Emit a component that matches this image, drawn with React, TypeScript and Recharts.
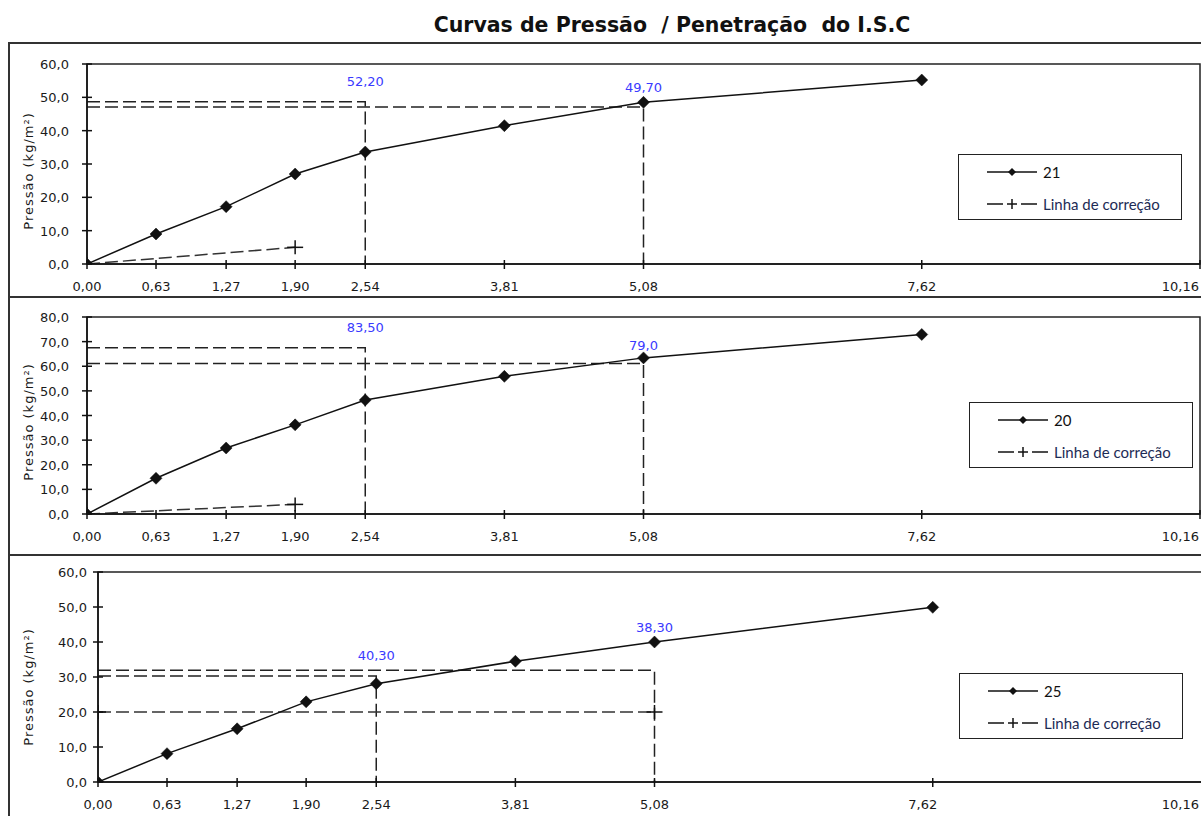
import React from 'react';
import { ComposedChart, Line, XAxis, YAxis, Scatter, Legend, ReferenceArea } from 'recharts';

// ---------- data ----------
const penetration = [0, 0.63, 1.27, 1.9, 2.54, 3.81, 5.08, 7.62];
const xTicks = [0, 0.63, 1.27, 1.9, 2.54, 3.81, 5.08, 7.62, 10.16];
const yTicks60 = [0, 10, 20, 30, 40, 50, 60];
const yTicks80 = [0, 10, 20, 30, 40, 50, 60, 70, 80];

const samples = ['21', '20', '25'];
const pressure21 = [0, 9.0, 17.2, 27.0, 33.6, 41.5, 48.5, 55.2];
const pressure20 = [0, 14.5, 26.8, 36.2, 46.3, 55.9, 63.4, 72.9];
const pressure25 = [0, 8.1, 15.2, 22.9, 28.1, 34.5, 40.0, 49.9];

const correctionX21 = [0, 1.9];
const correctionY21 = [0, 5.0];
const correctionX20 = [0, 1.9];
const correctionY20 = [0, 3.9];
const correctionX25 = [0, 5.08];
const correctionY25 = [20, 20];

const guideX = [2.54, 5.08];
const guideY21 = [48.7, 47.1];
const guideY20 = [67.5, 61.1];
const guideY25 = [30.3, 31.9];

const isc21 = ['52,20', '49,70'];
const iscY21 = [55.0, 53.2];
const isc20 = ['83,50', '79,0'];
const iscY20 = [75.9, 68.8];
const isc25 = ['40,30', '38,30'];
const iscY25 = [36.2, 44.3];

const title = 'Curvas de Pressão  / Penetração  do I.S.C';
const yTitle = 'Pressão (kg/m²)';
const correctionName = 'Linha de correção';

// ---------- helpers ----------
const toPoints = (xs: number[], ys: number[]) => xs.map((x, i) => ({ x, y: ys[i] }));
const guidePath = (x: number, y: number) => [
  { x: 0, y },
  { x, y },
  { x, y: 0 },
];
const labelPoints = (xs: number[], ys: number[], texts: string[]) =>
  xs.map((x, i) => ({ x, y: ys[i], text: texts[i] }));

const FONT = '"DejaVu Sans", Verdana, sans-serif';
const INK = '#111';

const Diamond = (props: any) => {
  const { cx, cy, index } = props;
  if (cx == null || cy == null) return <g key={`d${index}`} />;
  const r = 6;
  return (
    <path
      key={`d${index}`}
      d={`M${cx},${cy - r}L${cx + r},${cy}L${cx},${cy + r}L${cx - r},${cy}Z`}
      fill={INK}
      stroke={INK}
      strokeWidth={0.5}
    />
  );
};

const Plus = (props: any) => {
  const { cx, cy, index } = props;
  if (cx == null || cy == null) return <g key={`p${index}`} />;
  return (
    <g key={`p${index}`}>
      <line x1={cx - 8} x2={cx + 8} y1={cy} y2={cy} stroke={INK} strokeWidth={1.5} />
      <line x1={cx} x2={cx} y1={cy - 7} y2={cy + 7} stroke={INK} strokeWidth={1.5} />
    </g>
  );
};

const fmtX = (v: number) => v.toFixed(2).replace('.', ',');
const fmtY = (v: number) => v.toFixed(1).replace('.', ',');

const makeXTick = (shifts: number[]) => (props: any) => {
  const { x, y, payload, index } = props;
  const last = index === xTicks.length - 1;
  return (
    <g>
      <line x1={x} x2={x} y1={y - 4} y2={y + 5} stroke={INK} strokeWidth={1.5} />
      <text
        x={last ? 1199 : x + (shifts[index] || 0)}
        y={y + 27}
        textAnchor={last ? 'end' : 'middle'}
        fontFamily={FONT}
        fontSize={13}
        fill="#1a1a1a"
      >
        {fmtX(payload.value)}
      </text>
    </g>
  );
};

const makeYTick = (gap: number) => (props: any) => {
  const { x, y, payload } = props;
  return (
    <g>
      <line x1={x - 5} x2={x + 5} y1={y} y2={y} stroke={INK} strokeWidth={1.5} />
      <text
        x={x - gap}
        y={y + 5}
        textAnchor="end"
        fontFamily={FONT}
        fontSize={13}
        fill="#1a1a1a"
      >
        {fmtY(payload.value)}
      </text>
    </g>
  );
};

const IscLabel = (props: any) => {
  const { cx, cy, payload, index } = props;
  if (cx == null) return <g key={`l${index}`} />;
  return (
    <text
      key={`l${index}`}
      x={cx}
      y={cy + 5}
      textAnchor="middle"
      fontFamily={FONT}
      fontSize={13}
      fill="#3a3aff"
    >
      {payload.text}
    </text>
  );
};

const makeLegend = (name: string) => () => (
  <div
    style={{
      width: 222,
      height: 64,
      border: '1.5px solid #222',
      background: '#fff',
      position: 'relative',
      fontFamily: 'Lato, sans-serif',
      fontSize: 15,
    }}
  >
    <svg width={60} height={64} style={{ position: 'absolute', left: 26, top: 0 }}>
      <line x1={2} x2={52} y1={17} y2={17} stroke={INK} strokeWidth={1.5} />
      <path d="M27,13L31,17L27,21L23,17Z" fill={INK} />
      <line x1={2} x2={18} y1={49} y2={49} stroke={INK} strokeWidth={1.5} />
      <line x1={36} x2={52} y1={49} y2={49} stroke={INK} strokeWidth={1.5} />
      <line x1={22} x2={32} y1={49} y2={49} stroke={INK} strokeWidth={1.5} />
      <line x1={27} x2={27} y1={44} y2={54} stroke={INK} strokeWidth={1.5} />
    </svg>
    <div style={{ position: 'absolute', left: 84, top: 7, color: '#111', lineHeight: '20px' }}>{name}</div>
    <div style={{ position: 'absolute', left: 84, top: 39, color: '#1d2b55', lineHeight: '20px' }}>
      {correctionName}
    </div>
  </div>
);

type PanelCfg = {
  top: number;
  height: number;
  width: number;
  marginTop: number;
  yAxisWidth: number;
  xAxisHeight: number;
  yMax: number;
  yTicks: number[];
  yGap: number;
  yLabelY: number;
  legendLeft: number;
  legendTop: number;
  xShifts: number[];
  name: string;
  values: number[];
  corrX: number[];
  corrY: number[];
  guideY: number[];
  isc: string[];
  iscY: number[];
};

const panels: PanelCfg[] = [
  {
    top: 43, height: 254, width: 1201, marginTop: 21, yAxisWidth: 87, xAxisHeight: 33,
    yMax: 60, yTicks: yTicks60, yGap: 18, yLabelY: 128, legendLeft: 958, legendTop: 111,
    xShifts: [], name: samples[0], values: pressure21, corrX: correctionX21, corrY: correctionY21,
    guideY: guideY21, isc: isc21, iscY: iscY21,
  },
  {
    top: 297, height: 258, width: 1201, marginTop: 20, yAxisWidth: 87, xAxisHeight: 41,
    yMax: 80, yTicks: yTicks80, yGap: 18, yLabelY: 125, legendLeft: 969, legendTop: 105,
    xShifts: [], name: samples[1], values: pressure20, corrX: correctionX20, corrY: correctionY20,
    guideY: guideY20, isc: isc20, iscY: iscY20,
  },
  {
    top: 555, height: 261, width: 1212, marginTop: 17, yAxisWidth: 98, xAxisHeight: 34,
    yMax: 60, yTicks: yTicks60, yGap: 11, yLabelY: 132, legendLeft: 959, legendTop: 118,
    xShifts: [0, 0, 0, 0, 0, 0, 0, -10, 0], name: samples[2], values: pressure25, corrX: correctionX25,
    corrY: correctionY25, guideY: guideY25, isc: isc25, iscY: iscY25,
  },
];

const Panel = ({ cfg }: { cfg: PanelCfg }) => {
  const main = toPoints(penetration, cfg.values);
  const corr = toPoints(cfg.corrX, cfg.corrY);
  const labels = labelPoints(guideX, cfg.iscY, cfg.isc);
  return (
    <div style={{ position: 'absolute', left: 0, top: cfg.top }}>
      <ComposedChart
        width={cfg.width}
        height={cfg.height}
        margin={{ top: cfg.marginTop, right: 1, bottom: 0, left: 0 }}
      >
        <XAxis
          type="number"
          dataKey="x"
          domain={[0, 10.16]}
          ticks={xTicks}
          interval={0}
          allowDataOverflow
          height={cfg.xAxisHeight}
          tickSize={0}
          tickMargin={0}
          tickLine={false}
          axisLine={{ stroke: INK, strokeWidth: 1.5 }}
          tick={makeXTick(cfg.xShifts)}
        />
        <YAxis
          type="number"
          dataKey="y"
          domain={[0, cfg.yMax]}
          ticks={cfg.yTicks}
          interval={0}
          allowDataOverflow
          width={cfg.yAxisWidth}
          tickSize={0}
          tickMargin={0}
          tickLine={false}
          axisLine={{ stroke: INK, strokeWidth: 1.5 }}
          tick={makeYTick(cfg.yGap)}
          label={() => (
            <text
              x={28}
              y={cfg.yLabelY}
              transform={`rotate(-90 28 ${cfg.yLabelY})`}
              textAnchor="middle"
              dominantBaseline="central"
              fontFamily={FONT}
              fontSize={13}
              letterSpacing={1}
              fill="#1a1a1a"
            >
              {yTitle}
            </text>
          )}
        />
        <ReferenceArea
          x1={0}
          x2={10.16}
          y1={0}
          y2={cfg.yMax}
          fill="none"
          stroke="#222"
          strokeWidth={1.5}
          ifOverflow="visible"
        />
        {guideX.map((gx, i) => (
          <Line
            key={`g${i}`}
            data={guidePath(gx, cfg.guideY[i])}
            dataKey="y"
            type="linear"
            stroke="#222"
            strokeWidth={1.5}
            strokeDasharray="13 5"
            dot={false}
            activeDot={false}
            legendType="none"
            isAnimationActive={false}
          />
        ))}
        <Line
          data={corr}
          dataKey="y"
          name={correctionName}
          type="linear"
          stroke="#333"
          strokeWidth={1.5}
          strokeDasharray="13 5"
          dot={<Plus />}
          activeDot={false}
          isAnimationActive={false}
        />
        <Line
          data={main}
          dataKey="y"
          name={cfg.name}
          type="linear"
          stroke={INK}
          strokeWidth={1.5}
          dot={<Diamond />}
          activeDot={false}
          isAnimationActive={false}
        />
        <Scatter
          data={labels}
          dataKey="y"
          shape={<IscLabel />}
          legendType="none"
          isAnimationActive={false}
        />
        <Legend
          layout="horizontal"
          verticalAlign="middle"
          align="center"
          content={makeLegend(cfg.name)}
          wrapperStyle={{ left: cfg.legendLeft, top: cfg.legendTop, width: 'auto', right: 'auto', bottom: 'auto' }}
        />
      </ComposedChart>
    </div>
  );
};

export default function App() {
  return (
    <div
      style={{
        position: 'absolute',
        left: 0,
        top: 0,
        width: 1201,
        height: 816,
        overflow: 'hidden',
        background: '#fff',
      }}
    >
      <div
        style={{
          position: 'absolute',
          left: 372,
          top: 15,
          width: 600,
          textAlign: 'center',
          fontFamily: FONT,
          fontWeight: 'bold',
          fontSize: 20.5,
          lineHeight: '20px',
          whiteSpace: 'pre',
          color: '#111',
        }}
      >
        {title}
      </div>
      {/* panel frames */}
      <div
        style={{
          position: 'absolute',
          left: 8,
          top: 42,
          width: 1250,
          height: 900,
          borderLeft: '2px solid #333',
          borderTop: '2px solid #333',
        }}
      />
      <div style={{ position: 'absolute', left: 8, top: 296, width: 1250, height: 2, background: '#333' }} />
      <div style={{ position: 'absolute', left: 8, top: 554, width: 1250, height: 2, background: '#333' }} />
      {panels.map((p, i) => (
        <Panel key={i} cfg={p} />
      ))}
    </div>
  );
}
